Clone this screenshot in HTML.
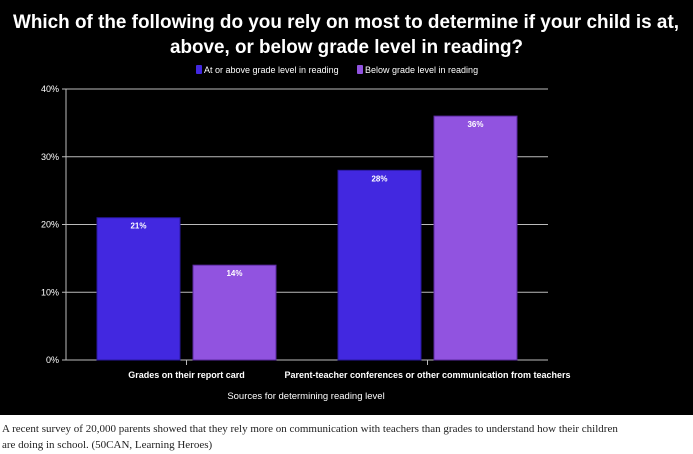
<!DOCTYPE html>
<html><head><meta charset="utf-8"><style>
body{margin:0;width:693px;height:454px;background:#fff;overflow:hidden;font-family:"Liberation Sans",sans-serif}
#chart{position:absolute;left:0;top:0;width:693px;height:415px;background:#000}
#cap{position:absolute;left:2px;top:421px;width:690px;font-family:"Liberation Serif",serif;font-size:11px;line-height:16px;color:#222;white-space:nowrap}
</style></head><body>
<div id="chart">
<svg id="svg" width="693" height="415">
<text x="13" y="28" textLength="666" lengthAdjust="spacingAndGlyphs" fill="#fff" font-size="19" font-weight="bold">Which of the following do you rely on most to determine if your child is at,</text>
<text x="170" y="53" textLength="353" lengthAdjust="spacingAndGlyphs" fill="#fff" font-size="19" font-weight="bold">above, or below grade level in reading?</text>
<g>
<rect x="196" y="65" width="6" height="9" rx="1" fill="#4228e0"/>
<text x="204" y="73" fill="#fff" font-size="9">At or above grade level in reading</text>
<rect x="357" y="65" width="6" height="9" rx="1" fill="#9153e0"/>
<text x="365" y="73" fill="#fff" font-size="9">Below grade level in reading</text>
</g>
<g id="grid"></g><g id="bars"></g><g id="xax"></g>
<text x="306" y="399" text-anchor="middle" fill="#fff" font-size="9.5">Sources for determining reading level</text>
</svg>
</div>
<div id="cap">A recent survey of 20,000 parents showed that they rely more on communication with teachers than grades to understand how their children<br>are doing in school. (50CAN, Learning Heroes)</div>
<script>
const categories=["Grades on their report card","Parent-teacher conferences or other communication from teachers"];
const atOrAbove=[21,28];
const below=[14,36];
const yTicks=[0,10,20,30,40];
const yTickLabels=["0%","10%","20%","30%","40%"];
const NS="http://www.w3.org/2000/svg";
const x0=66,x1=548,y0=360,y1=89,yMax=40;
const y=v=>y0-(v/yMax)*(y0-y1);
const band=(x1-x0)/categories.length;
const cx=i=>x0+band*(i+0.5);
function mk(tag,attrs,parent){const e=document.createElementNS(NS,tag);for(const k in attrs)e.setAttribute(k,attrs[k]);parent.appendChild(e);return e;}
const grid=document.getElementById('grid'),bars=document.getElementById('bars'),xax=document.getElementById('xax');
yTicks.forEach((t,i)=>{
 const l=mk('line',{x1:x0-4,x2:x1,y1:y(t),y2:y(t),stroke:'#bbb','stroke-width':1},grid);
 
 
 const tx=mk('text',{x:x0-7,y:y(t)+3,'text-anchor':'end',fill:'#fff','font-size':9},grid);
 tx.textContent=yTickLabels[i];
 
 
});
const ax=mk('line',{x1:x0,x2:x0,y1:y1,y2:y0,stroke:'#bbb','stroke-width':1},grid);


const bw=83,gap=13;
const series=[{vals:atOrAbove,fill:'#4228e0',stroke:'#2a18a0',name:'at-or-above',off:-bw-gap/2},{vals:below,fill:'#9153e0',stroke:'#5a2aa0',name:'below',off:gap/2}];
categories.forEach((c,i)=>{
 series.forEach(s=>{
  const v=s.vals[i],bx=cx(i)+s.off;
  const r=mk('rect',{x:bx,y:y(v),width:bw,height:y0-y(v),fill:s.fill,stroke:s.stroke,'stroke-width':1},bars);
  
  
  const t=mk('text',{x:bx+bw/2,y:y(v)+11,'text-anchor':'middle',fill:'#fff','font-size':8,'font-weight':'bold'},bars);
  t.textContent=v+'%';
  
  
 });
 const tk=mk('line',{x1:cx(i),x2:cx(i),y1:y0,y2:y0+5,stroke:'#bbb'},xax);
 
 
 const lb=mk('text',{x:cx(i),y:y0+18,'text-anchor':'middle',fill:'#fff','font-size':9,'font-weight':'bold'},xax);
 lb.textContent=c;
 
 
});
</script>
</body></html>
